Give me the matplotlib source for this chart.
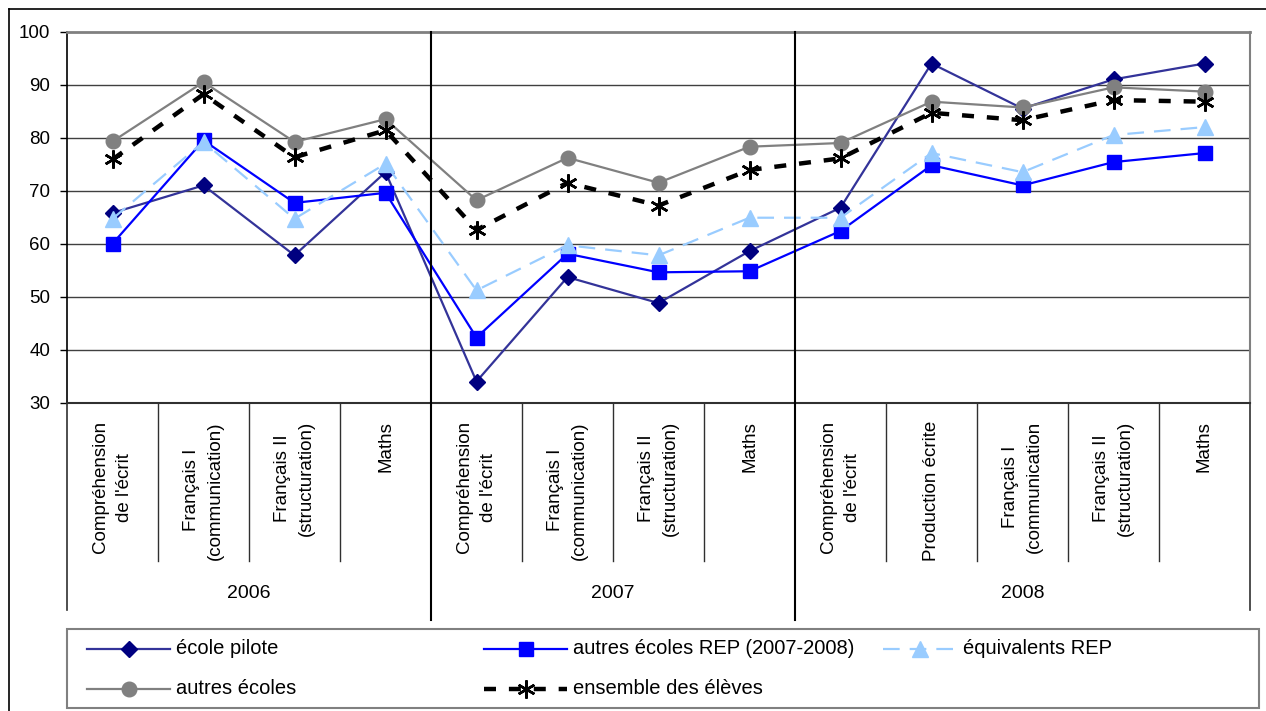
import numpy as np
import matplotlib
matplotlib.use("Agg")
import matplotlib.pyplot as plt
from matplotlib.lines import Line2D
from matplotlib.patches import Rectangle
from matplotlib.transforms import blended_transform_factory

plt.rcParams['font.family'] = ['Liberation Sans', 'DejaVu Sans']

# categories (grouped by year)
years = ["2006", "2007", "2008"]
subjects = [
    ["Compréhension\nde l'écrit", "Français I\n(communication)", "Français II\n(structuration)", "Maths"],
    ["Compréhension\nde l'écrit", "Français I\n(communication)", "Français II\n(structuration)", "Maths"],
    ["Compréhension\nde l'écrit", "Production écrite", "Français I\n(communication", "Français II\n(structuration)", "Maths"],
]

# series values
ecole_pilote = [65.8, 71.0, 57.8, 73.5, 34.0, 53.7, 48.8, 58.6, 66.8, 94.0, 85.5, 91.0, 94.0]
autres_rep = [60.0, 79.5, 67.7, 69.6, 42.3, 58.1, 54.6, 54.8, 62.4, 74.8, 71.0, 75.4, 77.1]
equivalents_rep = [64.7, 79.2, 64.7, 75.1, 51.2, 59.7, 57.8, 64.9, 64.9, 77.1, 73.5, 80.5, 82.0]
autres_ecoles = [79.3, 90.5, 79.2, 83.5, 68.2, 76.2, 71.5, 78.3, 79.0, 86.8, 85.7, 89.5, 88.7]
ensemble = [75.9, 88.2, 76.3, 81.4, 62.6, 71.5, 67.2, 73.9, 76.1, 84.7, 83.3, 87.1, 86.8]

W, H = 1266, 711
fig = plt.figure(figsize=(W / 100, H / 100), dpi=100)

def fx(px):
    return px / W

def fy(py):
    return 1 - py / H

# outer frame
fig.add_artist(Line2D([fx(9), fx(9)], [fy(9), 0], transform=fig.transFigure, color="black", lw=1.2))
fig.add_artist(Line2D([fx(9), 1], [fy(9), fy(9)], transform=fig.transFigure, color="black", lw=1.2))

ax = fig.add_axes([fx(67), fy(402.7), fx(1250) - fx(67), fy(31.7) - fy(402.7)])
x = np.arange(len(ecole_pilote))
ax.set_xlim(-0.5, len(x) - 0.5)
ax.set_ylim(30, 100)
ax.set_yticks(range(30, 101, 10))
ax.tick_params(axis="y", length=5, width=1, pad=7, labelsize=13.5)
ax.set_xticks([])
for y in range(40, 100, 10):
    ax.axhline(y, color="#404040", lw=1.0, zorder=0)
for s in ["top", "right"]:
    ax.spines[s].set_color("#808080")
ax.spines["top"].set_linewidth(2)
ax.spines["right"].set_linewidth(1.5)
ax.spines["left"].set_linewidth(1.2)
ax.spines["bottom"].set_linewidth(1.5)
ax.spines["bottom"].set_color("#303030")

series = [
    (ecole_pilote, dict(color="#333399", lw=1.6, marker="D", ms=8.5, mfc="#000080", mec="#000080")),
    (autres_rep, dict(color="#0000FF", lw=1.6, marker="s", ms=10, mfc="#0000FF", mec="#0000FF")),
    (equivalents_rep, dict(color="#99CCFF", lw=1.6, dashes=(7.5, 4.5), marker="^", ms=11, mfc="#99CCFF", mec="#99CCFF")),
    (autres_ecoles, dict(color="#808080", lw=1.6, marker="o", ms=10.5, mfc="#808080", mec="#808080")),
    (ensemble, dict(color="black", lw=3.2, dashes=(2.7, 2.9), marker=(6, 2, 0), ms=13, mec="black", mew=1.8)),
]
for vals, st in series:
    ax.plot(x, vals, zorder=3, clip_on=False, **st)

# year separators inside the plot
counts = [len(s) for s in subjects]
bounds = np.cumsum(counts)[:-1] - 0.5
tr = blended_transform_factory(ax.transData, fig.transFigure)
for b in bounds:
    ax.plot([b, b], [fy(31.7), fy(620)], transform=tr, color="black", lw=1.5, clip_on=False, zorder=4)

# category axis below the plot
edges = np.arange(len(x) + 1) - 0.5
for e in edges:
    if e in bounds:
        continue
    if e in (edges[0], edges[-1]):
        ax.plot([e, e], [fy(402.7), fy(610)], transform=tr, color="#303030", lw=1.2, clip_on=False)
    else:
        ax.plot([e, e], [fy(402.7), fy(561)], transform=tr, color="#303030", lw=1.0, clip_on=False)

labels = [lab for grp in subjects for lab in grp]
for xi, lab in zip(x, labels):
    ax.text(xi, fy(421), lab, transform=tr, rotation=90, ha="center", va="top",
            multialignment="center", fontsize=13.5, linespacing=1.55)
start = -0.5
for yr, n in zip(years, counts):
    ax.text(start + n / 2, fy(593), yr, transform=tr, ha="center", va="center", fontsize=14)
    start += n

# legend box
fig.add_artist(Rectangle((fx(67), fy(708)), fx(1259) - fx(67), fy(629) - fy(708),
                         transform=fig.transFigure, fill=False, ec="#808080", lw=1.5))
names = ["école pilote", "autres écoles REP (2007-2008)", "équivalents REP", "autres écoles", "ensemble des élèves"]
slots = [(87, 170, 649), (484, 567, 649), (883, 957, 649), (87, 170, 689), (484, 567, 689)]
for (vals, st), name, (x0, x1, yy) in zip(series, names, slots):
    xm = (x0 + x1) / 2
    fig.add_artist(Line2D([fx(x0), fx(xm), fx(x1)], [fy(yy)] * 3, transform=fig.transFigure,
                          markevery=[1], **st))
    fig.text(fx(x1 + 6), fy(yy), name, ha="left", va="center", fontsize=14.5)

fig.savefig("out.png", dpi=100)
